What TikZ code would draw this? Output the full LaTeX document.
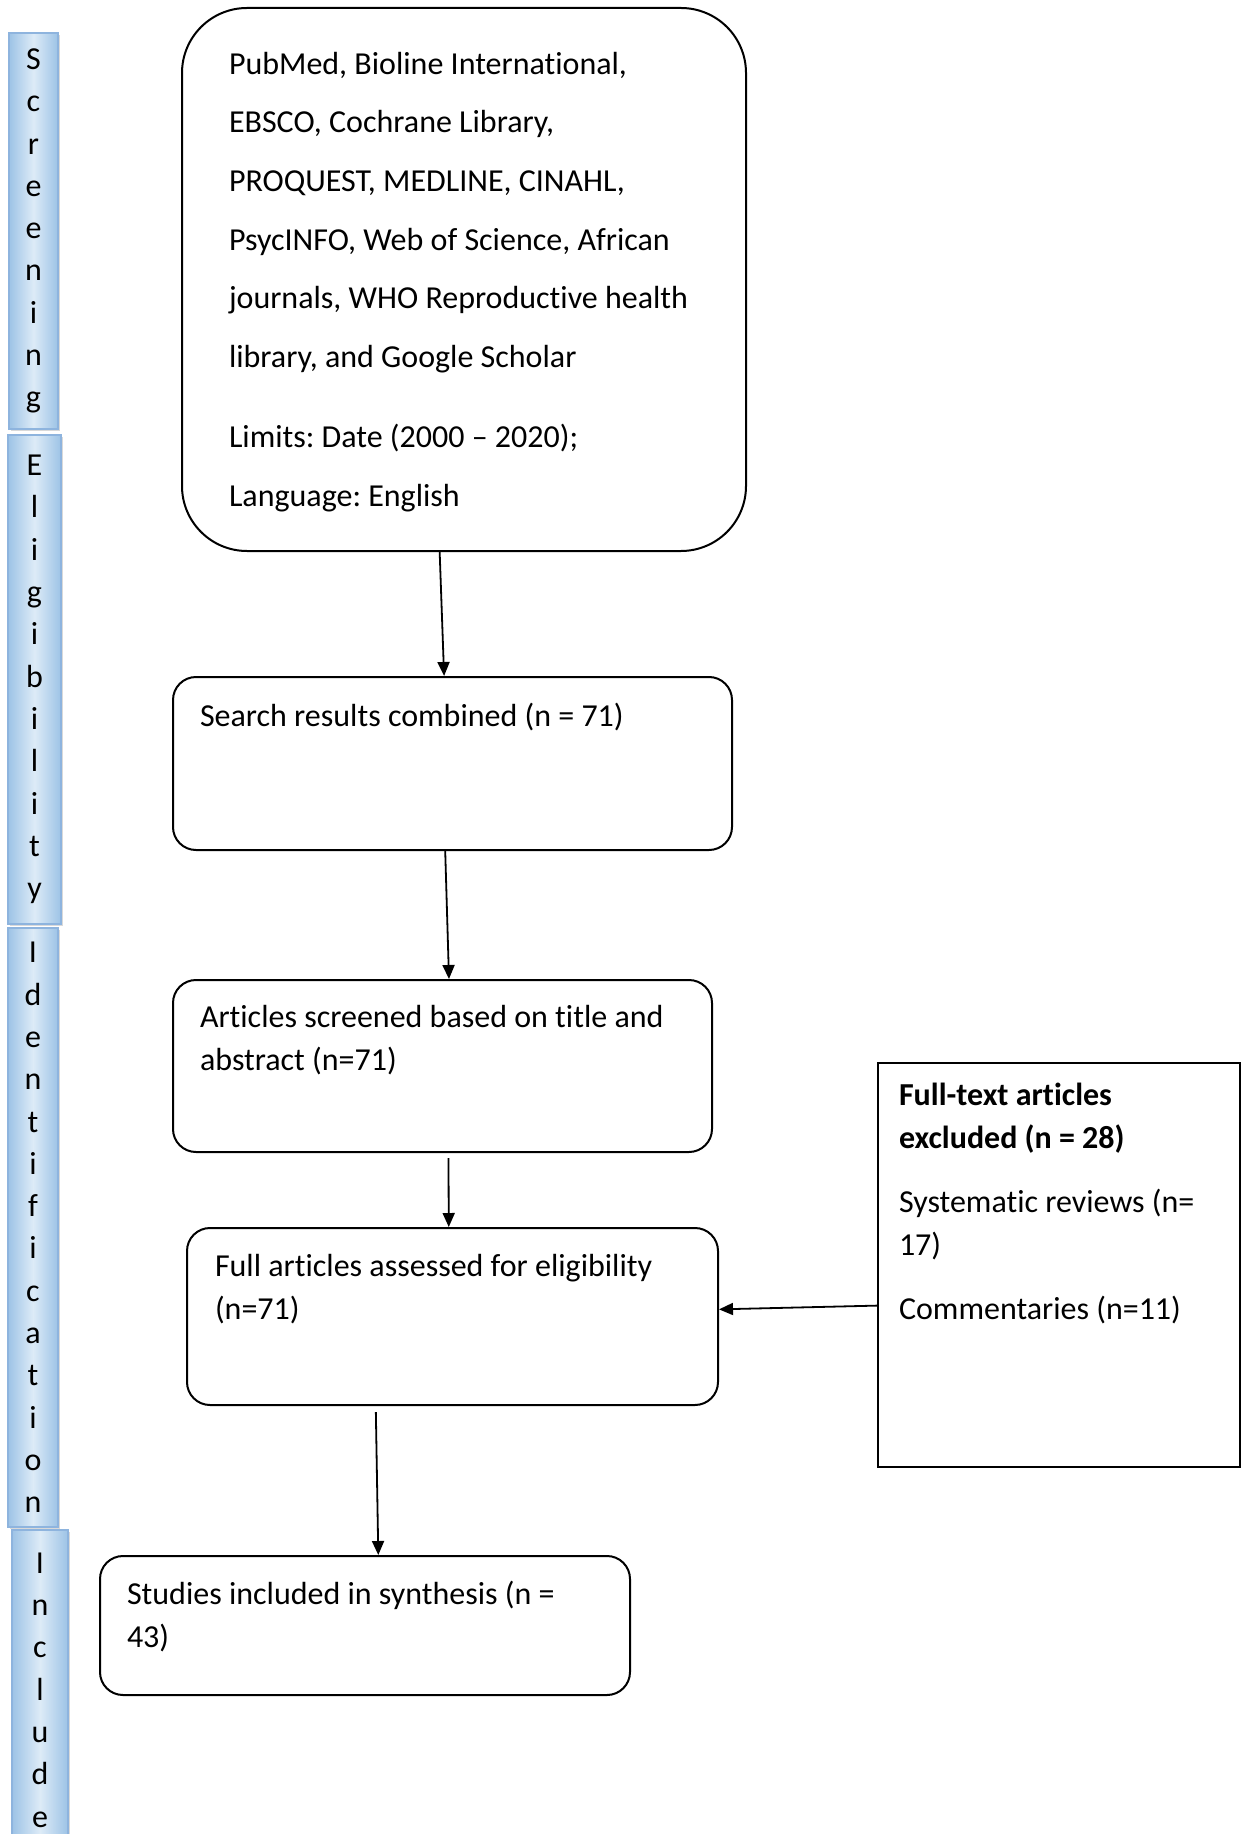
\documentclass[tikz,border=0pt]{standalone}
\usepackage{fontspec}
\setmainfont[Ligatures={NoCommon,NoContextual,NoRare}]{Carlito}
\frenchspacing
\usepackage{tikz}
\usetikzlibrary{arrows.meta, calc, shadows}

\definecolor{baredge}{HTML}{9DC3E6}
\definecolor{barmid}{HTML}{DDEBF7}
\definecolor{barline}{HTML}{8EB4DE}
% t and i kept apart
\newcommand\tsep{t\kern0pt i}

\begin{document}
\begin{tikzpicture}[x=0.5pt, y=-0.5pt, >={Triangle[length=7pt, width=6pt]},
    txt/.style={font=\fontsize{16}{21.5}\selectfont},
    box/.style={txt, draw, line width=1pt, rounded corners=11.5pt, anchor=north west},
    srcbox/.style={box, rounded corners=32.5pt, inner xsep=23.5pt, inner ysep=22pt},
    plainbox/.style={txt, draw, line width=1pt, anchor=north west, inner xsep=10.5pt, inner ysep=10pt},
    phase/.style={font=\fontsize{16}{21.15}\selectfont, align=center, draw=barline, line width=0.6pt,
      left color=baredge, right color=baredge, middle color=barmid,
      drop shadow={shadow xshift=1pt, shadow yshift=-1pt, opacity=0.3}, inner sep=0pt}]
   \useasboundingbox (0,0) rectangle (1241,1834);

   % phases on the left
   \node[phase, minimum width=24.5pt, minimum height=198pt] (screening) at (33.5,231)
      {S\\c\\r\\e\\e\\n\\i\\n\\g};
   \node[phase, minimum width=26.5pt, minimum height=244.5pt] (eligibility) at (34.5,679.5)
      {E\\l\\i\\g\\i\\b\\i\\l\\i\\t\\y};
   \node[phase, minimum width=28pt, minimum height=160pt] (include) at (40,1690)
      {I\\n\\c\\l\\u\\d\\e};
   \node[phase, minimum width=25pt, minimum height=299.5pt] (identification) at (33,1227.5)
      {I\\d\\e\\n\\t\\i\\f\\i\\c\\a\\t\\i\\o\\n};

   % flow boxes
   \node[srcbox] (sources) at (181,7) {\parbox[c][227.5pt][t]{235pt}{\baselineskip=29.3pt
      PubMed, Bioline Interna\tsep onal,\\
      EBSCO, Cochrane Library,\\
      PROQUEST, MEDLINE, CINAHL,\\
      PsycINFO, Web of Science, African\\
      journals, WHO Reproduc\tsep ve health\\
      library, and Google Scholar\\[11pt]
      Limits: Date (2000 -- 2020);\\
      Language: English}};
   \node[box, inner xsep=13.5pt, inner ysep=13pt] (combined) at (172,676)
      {\parbox[c][60.5pt][t]{252.5pt}{Search results combined (n = 71)}};
   \node[box, inner xsep=13.5pt, inner ysep=12.5pt] (screened) at (172,979)
      {\parbox[c][61pt][t]{242.5pt}{Ar\tsep cles screened based on \tsep tle and\\ abstract (n=71)}};
   \node[box, inner xsep=14pt, inner ysep=13pt] (assessed) at (186,1227)
      {\parbox[c][62.5pt][t]{237.5pt}{Full ar\tsep cles assessed for eligibili\kern0pt ty\\ (n=71)}};
   \node[box, inner xsep=13.5pt, inner ysep=12.5pt] (included) at (99,1555)
      {\parbox[c][44.5pt][t]{238pt}{Studies included in synthesis (n =\\ 43)}};
   \node[plainbox] (excluded) at (877,1062)
      {\parbox[c][182pt][t]{160pt}{\textbf{Full-text ar\tsep cles}\\ \textbf{excluded (n = 28)}\\[10.5pt]
      Systema\tsep c reviews (n=\\ 17)\\[10.5pt]
      Commentaries (n=11)}};

   \path[->, line width=0.9pt]
    ($(sources.south west)!0.457!(sources.south east)$) edge ($(combined.north west)!0.485!(combined.north east)$)
    ($(combined.south west)!0.487!(combined.south east)$) edge ($(screened.north west)!0.512!(screened.north east)$)
    ($(screened.south west)!0.511!(screened.south east)$) edge[shorten <=2.5pt] ($(assessed.north west)!0.493!(assessed.north east)$)
    ($(assessed.south west)!0.356!(assessed.south east)$) edge[shorten <=3pt] ($(included.north west)!0.525!(included.north east)$)
    ($(excluded.north west)!0.60!(excluded.south west)$) edge ($(assessed.north east)!0.46!(assessed.south east)$)
    ;
\end{tikzpicture}
\end{document}
